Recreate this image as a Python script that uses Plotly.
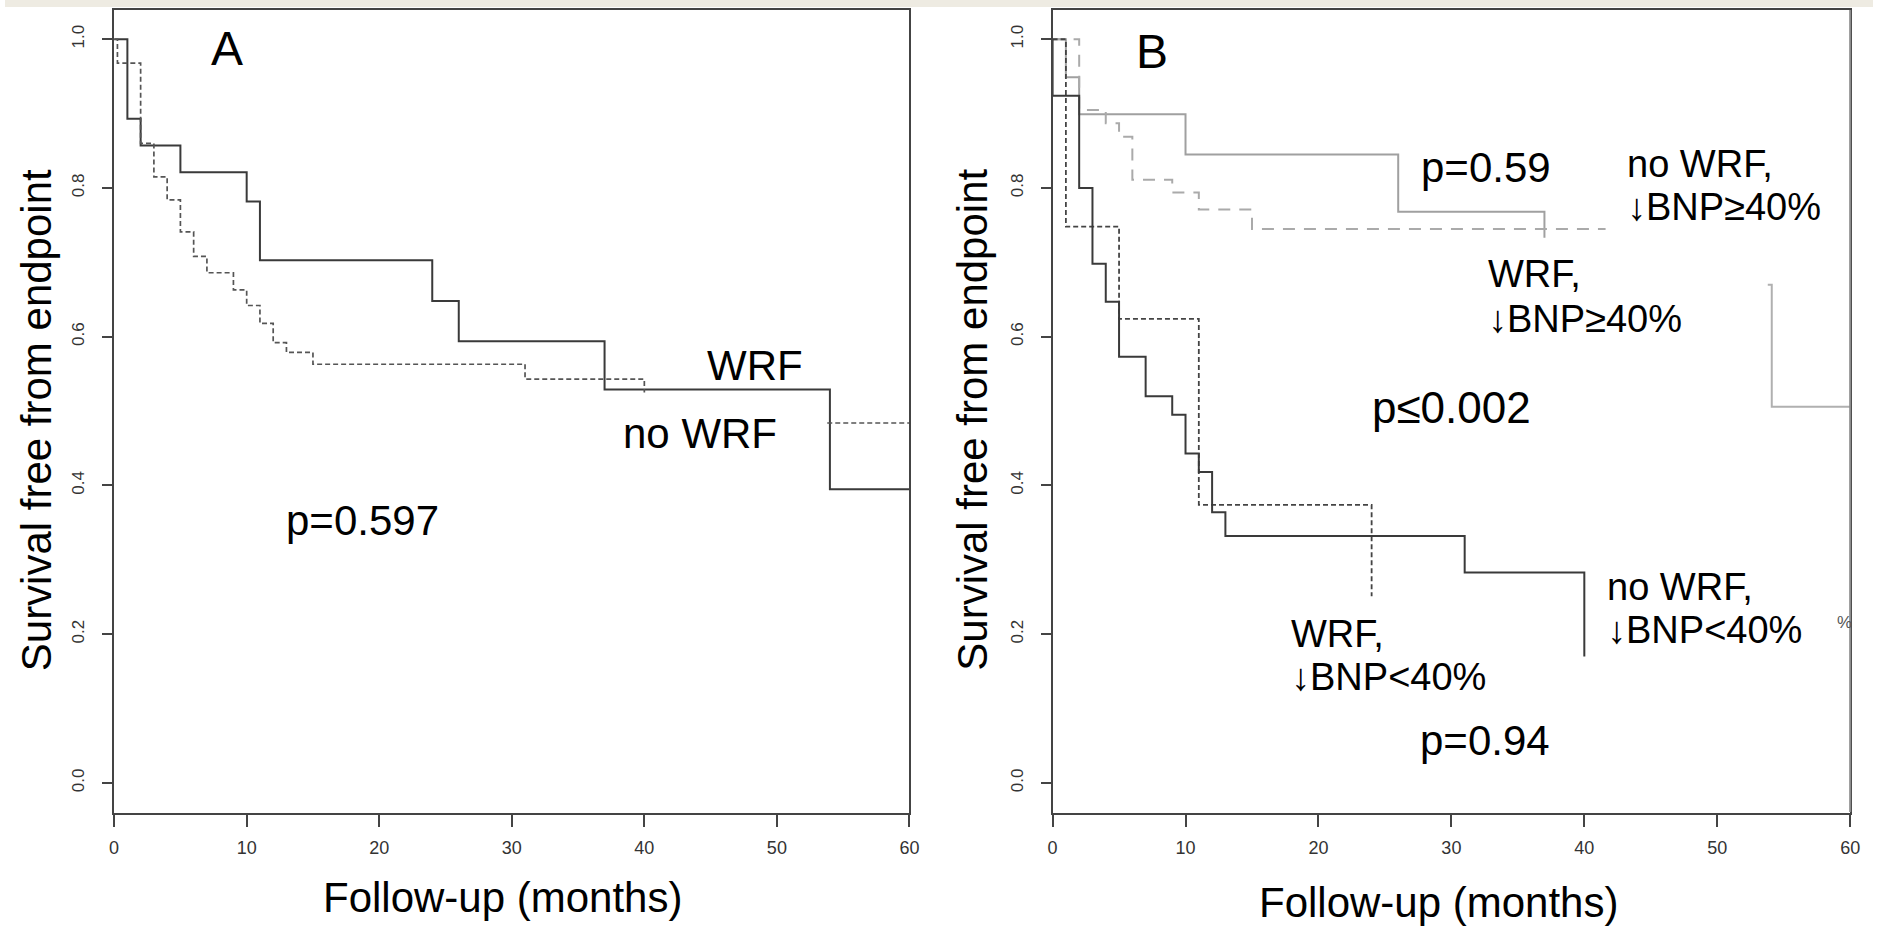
import plotly.graph_objects as go

# ---------------- data ----------------
# Panel A
a_wrf_t = [0, 1, 2, 5, 10, 11, 24, 26, 37, 54, 60]
a_wrf_s = [1.0, 0.893, 0.857, 0.821, 0.782, 0.703, 0.648, 0.594, 0.529, 0.395, 0.395]

a_nowrf_t = [0, 0.25, 2, 3, 4, 5, 6, 7, 9, 10, 11, 12, 13, 15, 31, 40, 40]
a_nowrf_s = [1.0, 0.968, 0.860, 0.815, 0.784, 0.741, 0.708, 0.686, 0.663, 0.642,
             0.618, 0.592, 0.579, 0.563, 0.543, 0.543, 0.525]
a_nowrf_tail_t = [53.8, 60]
a_nowrf_tail_s = [0.484, 0.484]

# Panel B
b_nowrf_hi_t = [0, 1, 2, 10, 26, 37, 37]
b_nowrf_hi_s = [1.0, 0.949, 0.899, 0.845, 0.768, 0.768, 0.733]
b_nowrf_hi_tail_t = [53.8, 54.1, 60]
b_nowrf_hi_tail_s = [0.670, 0.506, 0.506]

b_wrf_hi_t = [0, 2, 4, 5, 6, 9, 11, 15, 41.6]
b_wrf_hi_s = [1.0, 0.905, 0.887, 0.869, 0.811, 0.794, 0.771, 0.745, 0.745]

b_wrf_lo_t = [0, 1, 5, 11, 24, 24]
b_wrf_lo_s = [1.0, 0.748, 0.624, 0.374, 0.374, 0.251]

b_nowrf_lo_t = [0, 0, 2, 3, 4, 5, 7, 9, 10, 11, 12, 13, 31, 40, 40]
b_nowrf_lo_s = [1.0, 0.924, 0.800, 0.698, 0.647, 0.573, 0.520, 0.495, 0.443,
                0.418, 0.364, 0.332, 0.283, 0.283, 0.170]

x_ticks = [0, 10, 20, 30, 40, 50, 60]
y_ticks = [0.0, 0.2, 0.4, 0.6, 0.8, 1.0]
y_tick_labels = ["0.0", "0.2", "0.4", "0.6", "0.8", "1.0"]

# ---------------- figure ----------------
W, H = 1883, 927
FONT = "Liberation Sans, Arial, sans-serif"

fig = go.Figure()

def step(x, y, xa, ya, color, width, dash="solid"):
    fig.add_trace(go.Scatter(x=x, y=y, mode="lines", line_shape="hv",
                             line=dict(color=color, width=width, dash=dash),
                             xaxis=xa, yaxis=ya, showlegend=False, hoverinfo="skip"))

# Panel A
step(a_wrf_t, a_wrf_s, "x", "y", "#3a3a3a", 2)
step(a_nowrf_t, a_nowrf_s, "x", "y", "#555555", 1.7, "5px,3px")
step(a_nowrf_tail_t, a_nowrf_tail_s, "x", "y", "#555555", 1.5, "5px,3px")

# Panel B
step(b_nowrf_hi_t, b_nowrf_hi_s, "x2", "y2", "#a0a0a0", 2)
step(b_nowrf_hi_tail_t, b_nowrf_hi_tail_s, "x2", "y2", "#b0b0b0", 2)
step(b_wrf_hi_t, b_wrf_hi_s, "x2", "y2", "#aaaaaa", 2, "12px,9px")
step(b_wrf_lo_t, b_wrf_lo_s, "x2", "y2", "#444444", 1.8, "5px,3px")
step(b_nowrf_lo_t, b_nowrf_lo_s, "x2", "y2", "#3a3a3a", 2)

def px_x(p):
    return p / W

def px_y(p):
    return 1 - p / H

y_dom = [px_y(812.7), px_y(9.5)]

common_x = dict(range=[0, 60], tickvals=x_ticks, ticks="outside", ticklen=12,
                tickwidth=1.5, tickcolor="#444", showgrid=False, zeroline=False,
                showline=True, mirror=True, linewidth=2, linecolor="#444",
                tickfont=dict(family=FONT, size=18, color="#333"),
                ticklabelstandoff=6, fixedrange=True)
common_y = dict(range=[-0.04, 1.04], tickvals=y_ticks, ticktext=y_tick_labels,
                ticks="outside", ticklen=10, tickwidth=1.5, tickcolor="#444",
                showgrid=False, zeroline=False, showline=True, mirror=True,
                linewidth=2, linecolor="#444", tickangle=-90,
                tickfont=dict(family=FONT, size=17, color="#333"),
                ticklabelstandoff=11, domain=y_dom, fixedrange=True)

fig.update_layout(
    width=W, height=H, autosize=False,
    margin=dict(l=0, r=0, t=0, b=0),
    paper_bgcolor="white", plot_bgcolor="white",
    xaxis=dict(domain=[px_x(110), px_x(911.7)], anchor="y", **common_x),
    yaxis=dict(anchor="x", **common_y),
    xaxis2=dict(domain=[px_x(1056), px_x(1860)], anchor="y2", **common_x),
    yaxis2=dict(anchor="x2", **common_y),
)

anns = []

def label(text, left_px, baseline_px, size, color="black"):
    center_y = baseline_px - 0.3465 * size
    anns.append(dict(text=text, xref="paper", yref="paper",
                     x=px_x(left_px - 2), y=px_y(center_y),
                     xanchor="left", yanchor="middle", showarrow=False,
                     font=dict(family=FONT, size=size, color=color)))

def centered(text, cx, cy, size, angle=0, color="black"):
    anns.append(dict(text=text, xref="paper", yref="paper",
                     x=px_x(cx), y=px_y(cy), xanchor="center", yanchor="middle",
                     showarrow=False, textangle=angle,
                     font=dict(family=FONT, size=size, color=color)))

# axis titles
centered("Survival free from endpoint", 32.5, 420, 42, -90)
centered("Survival free from endpoint", 975.5, 420, 42, -90)
centered("Follow-up (months)", 501, 897.5, 42)
centered("Follow-up (months)", 1445, 902, 42)

# Panel A labels
label("A", 208, 65, 48)
label("WRF", 708, 380, 42)
label("no WRF", 623, 448, 42)
label("p=0.597", 283, 535, 42)

# Panel B labels
label("B", 1140, 68, 48)
label("p=0.59", 1427, 182, 42)
label("no WRF,", 1635, 177, 38)
label("↓BNP≥40%", 1635, 220, 38)
label("WRF,", 1495, 287, 38)
label("↓BNP≥40%", 1495, 332, 38)
label("p≤0.002", 1378, 423, 44)
label("WRF,", 1296, 647, 38)
label("↓BNP<40%", 1296, 690, 38)
label("p=0.94", 1426, 755, 42)
label("no WRF,", 1615, 600, 38)
label("↓BNP<40%", 1615, 643, 38)
centered("%", 1854, 622, 17, 0, "#555")

fig.update_layout(annotations=anns)

# top beige strip and lighter right border of panel B
fig.add_shape(type="rect", xref="paper", yref="paper", x0=0, x1=1, y0=px_y(7), y1=1,
              fillcolor="#eeebe2", line=dict(width=0), layer="below")
fig.add_shape(type="line", xref="paper", yref="paper", x0=px_x(1860), x1=px_x(1860),
              y0=px_y(812), y1=px_y(10), line=dict(color="#8c8c8c", width=2))

fig.write_html("out.html", config={"displayModeBar": False},
               post_script="document.body.style.margin='0';")
